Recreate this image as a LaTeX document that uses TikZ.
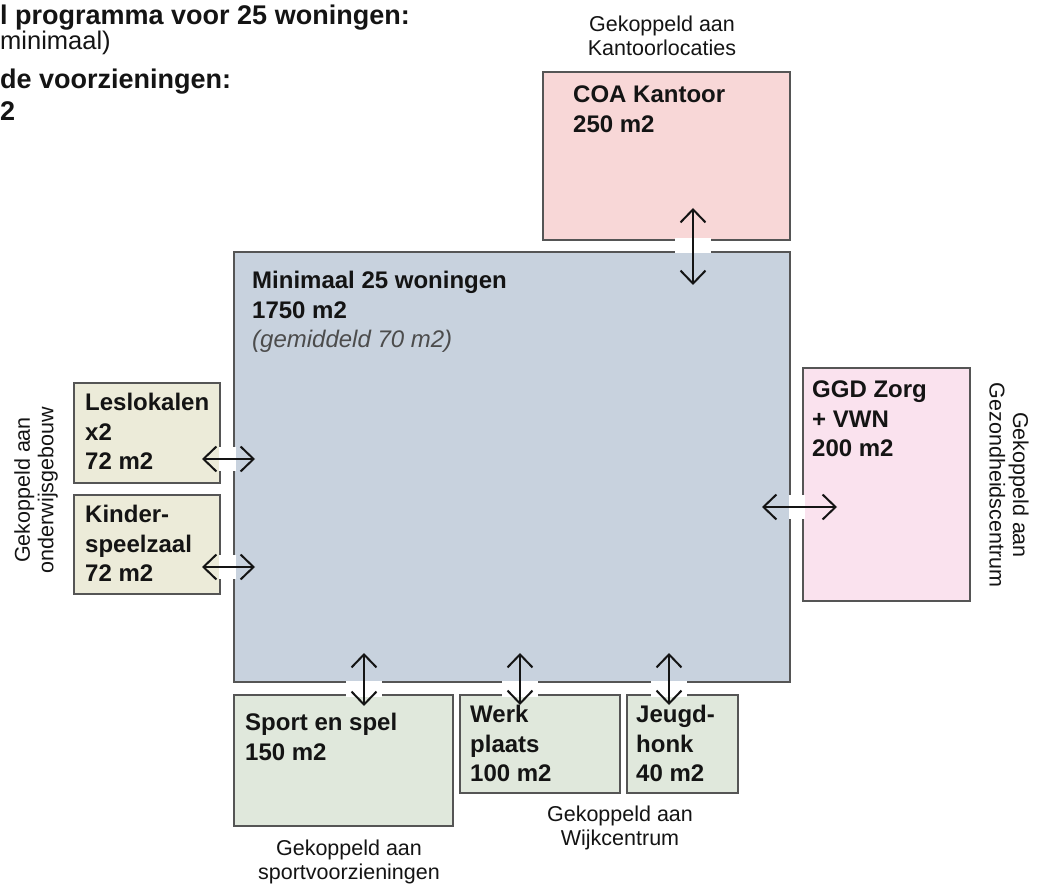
\documentclass[tikz,border=0pt]{standalone}
\usepackage{fontspec}
\setmainfont{Liberation Sans}
\usetikzlibrary{arrows.meta}
\definecolor{mainfill}{RGB}{200,210,222}
\definecolor{coafill}{RGB}{248,215,215}
\definecolor{ggdfill}{RGB}{250,226,238}
\definecolor{lesfill}{RGB}{236,235,217}
\definecolor{botfill}{RGB}{224,232,220}
\definecolor{edge}{RGB}{85,85,85}
\definecolor{ink}{RGB}{20,20,20}
\tikzset{
  box/.style={draw=edge, line width=1.5pt, rectangle, inner sep=0pt, outer sep=0pt, anchor=north west},
  boxtext/.style={font=\fontsize{24}{29.5}\selectfont\bfseries, text=ink, align=left, anchor=north west, inner sep=0pt},
  label/.style={font=\fontsize{21.5}{23.5}\selectfont, text=ink, align=center, inner sep=0pt},
  titleb/.style={font=\fontsize{27}{30}\selectfont\bfseries, text=ink, anchor=base west, inner sep=0pt},
  titler/.style={font=\fontsize{25.5}{28}\selectfont, text=ink, anchor=base west, inner sep=0pt},
  dar/.style={line width=2pt, ink, {Straight Barb[length=13pt,width=25pt]}-{Straight Barb[length=13pt,width=25pt]}},
  glow/.style={fill=white, draw=none}
}
\begin{document}
\begin{tikzpicture}[x=1pt,y=-1pt]
\useasboundingbox[fill=white] (0,0) rectangle (1042,885);

% title lines
\node[titleb] (t1) at (0,25) {l programma voor 25 woningen:};
\node[titler] (t2) at (0,50) {minimaal)};
\node[titleb] (t3) at (0,89) {de voorzieningen:};
\node[titleb] (t4) at (0,121) {2};

% boxes
\node[box, fill=mainfill, minimum width=556pt, minimum height=430pt] (main) at (234,252) {};
\node[box, fill=coafill, minimum width=247pt, minimum height=168pt] (coa) at (543,72) {};
\node[box, fill=ggdfill, minimum width=167pt, minimum height=233pt] (ggd) at (803,368) {};
\node[box, fill=lesfill, minimum width=146pt, minimum height=100pt] (les) at (74,383) {};
\node[box, fill=lesfill, minimum width=146pt, minimum height=99pt] (kind) at (74,495) {};
\node[box, fill=botfill, minimum width=219pt, minimum height=131pt] (sport) at (234,695) {};
\node[box, fill=botfill, minimum width=160pt, minimum height=98pt] (werk) at (460,695) {};
\node[box, fill=botfill, minimum width=111pt, minimum height=98pt] (jeugd) at (627,695) {};

% white glow where arrows cross borders
\fill[glow] (675,238.5) rectangle (711,253.5);
\fill[glow] (346,680.5) rectangle (382,696.5);
\fill[glow] (502,680.5) rectangle (538,696.5);
\fill[glow] (651,680.5) rectangle (687,696.5);
\fill[glow] (218.5,447) rectangle (235.5,471);
\fill[glow] (218.5,555) rectangle (235.5,579);
\fill[glow] (788.5,495) rectangle (804.5,519);

% box texts
\node[boxtext] (maint) at (252,271) {Minimaal 25 woningen\\1750 m2\\{\mdseries\itshape\color{black!70}(gemiddeld 70 m2)}};
\node[boxtext] (coat) at (573,86) {COA Kantoor\\250 m2};
\node[boxtext] (ggdt) at (812,381) {GGD Zorg\\+ VWN\\200 m2};
\node[boxtext] (lest) at (85,393) {Leslokalen\\x2\\72 m2};
\node[boxtext] (kindt) at (85,505) {Kinder-\\speelzaal\\72 m2};
\node[boxtext] (sportt) at (245,713) {Sport en spel\\150 m2};
\node[boxtext] (werkt) at (470,705) {Werk\\plaats\\100 m2};
\node[boxtext] (jeugdt) at (636,705) {Jeugd-\\honk\\40 m2};

% labels
\node[label, anchor=north] (lkant) at (662,16) {Gekoppeld aan\\Kantoorlocaties};
\node[label, anchor=north] (lwijk) at (620,806) {Gekoppeld aan\\Wijkcentrum};
\node[label, anchor=north] (lsport) at (349,840) {Gekoppeld aan\\sportvoorzieningen};
\node[label, rotate=90] (londer) at (36,490) {Gekoppeld aan\\onderwijsgebouw};
\node[label, rotate=-90] (lgezond) at (1009,485) {Gekoppeld aan\\Gezondheidscentrum};

% arrow end points
\coordinate (c1) at (693,208); \coordinate (c2) at (693,285);
\coordinate (l1) at (202,459); \coordinate (l2) at (255,459);
\coordinate (k1) at (202,567); \coordinate (k2) at (255,567);
\coordinate (g1) at (762,507); \coordinate (g2) at (837,507);
\coordinate (s1) at (364,653); \coordinate (s2) at (364,706);
\coordinate (w1) at (520,653); \coordinate (w2) at (520,705);
\coordinate (j1) at (669,653); \coordinate (j2) at (669,705);

\draw[dar] (c1) -- (c2);
\draw[dar] (l1) -- (l2);
\draw[dar] (k1) -- (k2);
\draw[dar] (g1) -- (g2);
\draw[dar] (s1) -- (s2);
\draw[dar] (w1) -- (w2);
\draw[dar] (j1) -- (j2);
\end{tikzpicture}
\end{document}
